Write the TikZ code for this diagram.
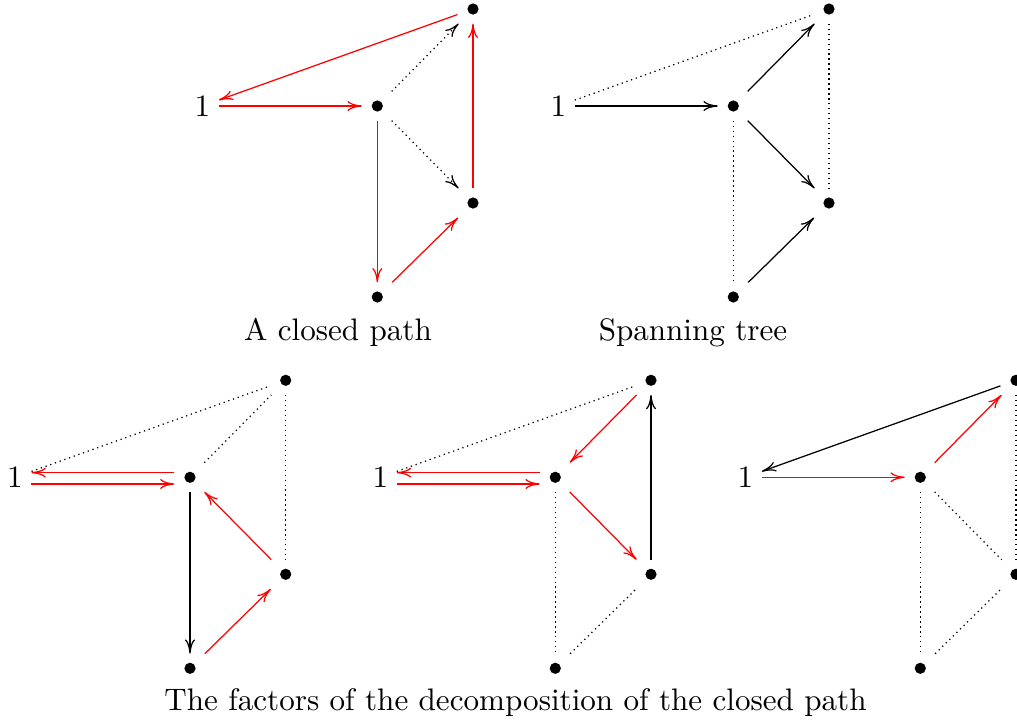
\documentclass[tikz,border=0pt]{standalone}
\usetikzlibrary{arrows.meta}
\tikzset{
  >={Computer Modern Rightarrow[length=4.6pt,width=3.2pt]},
  dotnode/.style={rectangle, inner sep=0pt, minimum width=9.6pt, minimum height=9pt},
  onenode/.style={inner sep=2.6pt},
  arr/.style={->},
  redarr/.style={->, red},
  dotline/.style={dash pattern=on 0.4pt off 1.2pt},
  dotarr/.style={->, dash pattern=on 0.4pt off 1.2pt},
  captionnode/.style={anchor=base},
}
\newcommand\mkgraph[3]{%
  \node[onenode] (#1one) at ({#2-175},#3) {1};
  \node[dotnode] (#1c) at (#2,#3) {};
  \node[dotnode] (#1t) at ({#2+95.7},{#3-97}) {};
  \node[dotnode] (#1r) at ({#2+95.7},{#3+97}) {};
  \node[dotnode] (#1b) at (#2,{#3+191}) {};
  \fill (#1c) circle (1.8pt);
  \fill (#1t) circle (1.8pt);
  \fill (#1r) circle (1.8pt);
  \fill (#1b) circle (1.8pt);
}
\begin{document}
\begin{tikzpicture}[x=0.3215pt,y=-0.3215pt]
\useasboundingbox (0,0) rectangle (1017,723);

% Graph A: a closed path
\mkgraph{a}{377.3}{106}
\draw[redarr] (aone) -- (ac);
\draw[redarr] (at) -- (aone);
\draw[dotarr] (ac) -- (at);
\draw[dotarr] (ac) -- (ar);
\draw[redarr] (ac) -- (ab);
\draw[redarr] (ab) -- (ar);
\draw[redarr] (ar) -- (at);
\node[captionnode] (capa) at (338,340) {A closed path};

% Graph B: spanning tree
\mkgraph{b}{733.3}{106}
\draw[arr] (bone) -- (bc);
\draw[dotline] (bone) -- (bt);
\draw[arr] (bc) -- (bt);
\draw[arr] (bc) -- (br);
\draw[dotline] (bt) -- (br);
\draw[dotline] (bc) -- (bb);
\draw[arr] (bb) -- (br);
\node[captionnode] (capb) at (693,340) {Spanning tree};

% Graph C
\mkgraph{c}{190}{477.3}
\draw[redarr] ([yshift=1.5pt]cc.west) -- ([yshift=1.5pt]cone.east);
\draw[redarr] ([yshift=-2.15pt]cone.east) -- ([yshift=-2.15pt]cc.west);
\draw[dotline] (cone) -- (ct);
\draw[dotline] (cc) -- (ct);
\draw[dotline] (ct) -- (cr);
\draw[arr] (cc) -- (cb);
\draw[redarr] (cb) -- (cr);
\draw[redarr] (cr) -- (cc);

% Graph D
\mkgraph{d}{555.3}{477.3}
\draw[redarr] ([yshift=1.5pt]dc.west) -- ([yshift=1.5pt]done.east);
\draw[redarr] ([yshift=-2.15pt]done.east) -- ([yshift=-2.15pt]dc.west);
\draw[dotline] (done) -- (dt);
\draw[redarr] (dt) -- (dc);
\draw[redarr] (dc) -- (dr);
\draw[arr] (dr) -- (dt);
\draw[dotline] (dc) -- (db);
\draw[dotline] (db) -- (dr);

% Graph E
\mkgraph{e}{920.3}{477.3}
\draw[arr] (et) -- (eone);
\draw[redarr] (eone) -- (ec);
\draw[redarr] (ec) -- (et);
\draw[dotline] (et) -- (er);
\draw[dotline] (ec) -- (er);
\draw[dotline] (ec) -- (eb);
\draw[dotline] (eb) -- (er);

\node[captionnode] (capc) at (515.5,710) {The factors of the decomposition of the closed path};
\end{tikzpicture}
\end{document}
